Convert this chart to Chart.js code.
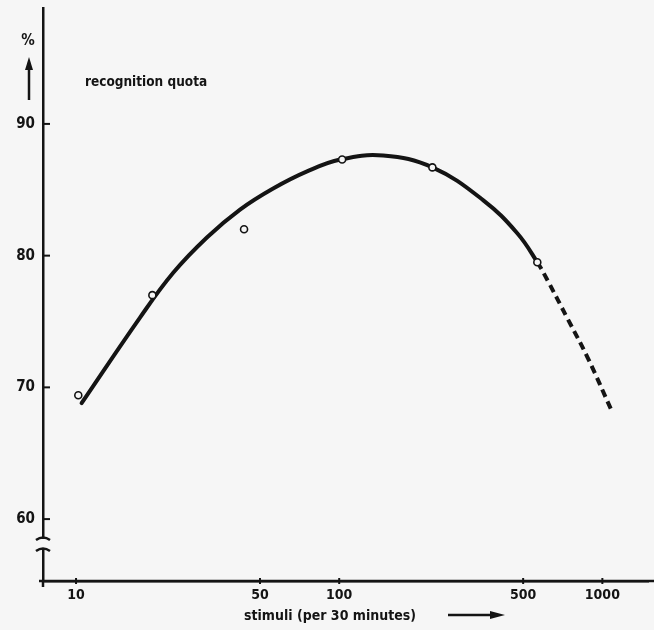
<!DOCTYPE html>
<html>
<head>
<meta charset="utf-8">
<script src="https://cdn.jsdelivr.net/npm/chart.js@4/dist/chart.umd.min.js"></script>
<style>
  html, body { margin: 0; padding: 0; background: #f6f6f6; }
  canvas { display: block; }
</style>
</head>
<body>
<canvas id="c" width="654" height="630"></canvas>
<script>
// ---- data ----
const stimuliMeasured = [10.2, 19.5, 43.5, 102.6, 226, 566];
const quotaMeasured   = [69.4, 77.0, 82.0, 87.3, 86.7, 79.5];

const curveStimuli = [10.5, 17.5, 23.4, 31.5, 42.0, 56.1, 75.5, 101, 147, 226, 353, 475, 566, 618, 736, 877, 1092];
const curveQuota   = [68.8, 75.3, 78.7, 81.4, 83.5, 85.1, 86.4, 87.3, 87.6, 86.7, 84.2, 81.7, 79.5, 78.15, 75.25, 72.3, 68.1];
const extrapolateFrom = 566; // curve is dashed beyond this stimulus rate

const xTicks = [10, 50, 100, 500, 1000];
const yTicks = [60, 70, 80, 90];

const xTitle = "stimuli (per 30 minutes)";
const yUnit = "%";
const curveLabel = "recognition quota";

const INK = '#141414';
const BG = '#f6f6f6';
const FONT = '"DejaVu Sans Condensed", "DejaVu Sans", sans-serif';

const toXY = (xs, ys) => xs.map((x, i) => ({x: x, y: ys[i]}));

const decor = {
  id: 'decor',
  afterDraw(chart) {
    const ctx = chart.ctx;
    const xs = chart.scales.x, ys = chart.scales.y;
    const ax = xs.left, ay = ys.bottom;
    ctx.save();
    ctx.strokeStyle = INK; ctx.fillStyle = INK;
    // inward y ticks
    ctx.lineWidth = 2;
    yTicks.forEach(v => {
      const py = ys.getPixelForValue(v);
      ctx.beginPath(); ctx.moveTo(ax, py); ctx.lineTo(ax + 7, py); ctx.stroke();
    });
    // small x ticks
    xTicks.forEach(v => {
      const px = xs.getPixelForValue(v);
      ctx.beginPath(); ctx.moveTo(px, ay - 3); ctx.lineTo(px, ay + 3); ctx.stroke();
    });
    // extend x axis to the edge and slightly past origin
    ctx.lineWidth = 2.5;
    ctx.beginPath(); ctx.moveTo(ax - 4, ay); ctx.lineTo(chart.width, ay); ctx.stroke();
    ctx.beginPath(); ctx.moveTo(ax, ay); ctx.lineTo(ax, ay + 6); ctx.stroke();
    // axis break
    const b1 = 538, b2 = 549;
    ctx.fillStyle = BG;
    ctx.fillRect(ax - 3, b1 + 1, 6, b2 - b1 - 2);
    [b1, b2].forEach(by => {
      ctx.beginPath();
      ctx.moveTo(ax - 7, by + 2);
      ctx.quadraticCurveTo(ax, by - 3, ax + 7, by + 2);
      ctx.stroke();
    });
    // up arrow and %
    ctx.fillStyle = INK;
    ctx.beginPath(); ctx.moveTo(29, 100); ctx.lineTo(29, 66); ctx.stroke();
    ctx.beginPath(); ctx.moveTo(29, 57); ctx.lineTo(25, 70); ctx.lineTo(33, 70); ctx.closePath(); ctx.fill();
    ctx.font = 'bold 15px ' + FONT;
    ctx.textAlign = 'center'; ctx.textBaseline = 'middle';
    ctx.fillText(yUnit, 28, 41);
    // curve label
    ctx.font = 'bold 13.5px ' + FONT;
    ctx.textAlign = 'left';
    ctx.fillText(curveLabel, 85, 82);
    // x title and arrow
    ctx.font = 'bold 14px ' + FONT;
    ctx.textAlign = 'center';
    ctx.fillText(xTitle, 330, 616);
    ctx.beginPath(); ctx.moveTo(448, 615); ctx.lineTo(494, 615); ctx.stroke();
    ctx.beginPath(); ctx.moveTo(505, 615); ctx.lineTo(490, 611); ctx.lineTo(490, 619); ctx.closePath(); ctx.fill();
    ctx.restore();
  }
};

const noPad = s => { s.paddingTop = 0; s.paddingBottom = 0; s.paddingLeft = 0; s.paddingRight = 0; };

new Chart(document.getElementById('c'), {
  type: 'scatter',
  data: {
    datasets: [
      {
        label: 'fitted curve',
        data: toXY(curveStimuli, curveQuota),
        showLine: true,
        borderColor: INK,
        borderWidth: 4,
        borderCapStyle: 'round',
        pointRadius: 0,
        tension: 0.4,
        segment: {
          borderDash: c => (c.p0.parsed.x >= extrapolateFrom ? [8, 5] : undefined),
          borderCapStyle: c => (c.p0.parsed.x >= extrapolateFrom ? 'butt' : 'round')
        },
        order: 2
      },
      {
        label: 'measured',
        data: toXY(stimuliMeasured, quotaMeasured),
        showLine: false,
        pointRadius: 3.5,
        pointBorderWidth: 1.6,
        pointBorderColor: INK,
        pointBackgroundColor: BG,
        order: 1
      }
    ]
  },
  options: {
    responsive: false,
    animation: false,
    layout: { padding: { top: 8, left: 0, right: 0, bottom: 0 } },
    plugins: { legend: { display: false }, tooltip: { enabled: false }, title: { display: false } },
    scales: {
      x: {
        type: 'logarithmic',
        min: 7.49,
        max: 1496,
        afterFit: s => { s.height = 49; noPad(s); },
        afterBuildTicks: s => { s.ticks = xTicks.map(v => ({value: v})); },
        grid: { display: false, drawTicks: false },
        border: { display: true, color: INK, width: 2.5 },
        ticks: {
          autoSkip: false, maxRotation: 0, padding: 6,
          color: INK, font: { family: FONT, size: 14, weight: 'bold' },
          callback: v => String(v)
        }
      },
      y: {
        type: 'linear',
        min: 55.3,
        max: 98.8,
        afterFit: s => { s.width = 43; noPad(s); },
        afterBuildTicks: s => { s.ticks = yTicks.map(v => ({value: v})); },
        grid: { display: false, drawTicks: false },
        border: { display: true, color: INK, width: 2.5 },
        ticks: {
          autoSkip: false, padding: 8,
          color: INK, font: { family: FONT, size: 15, weight: 'bold' },
          callback: v => String(v)
        }
      }
    }
  },
  plugins: [decor]
});
</script>
</body>
</html>
